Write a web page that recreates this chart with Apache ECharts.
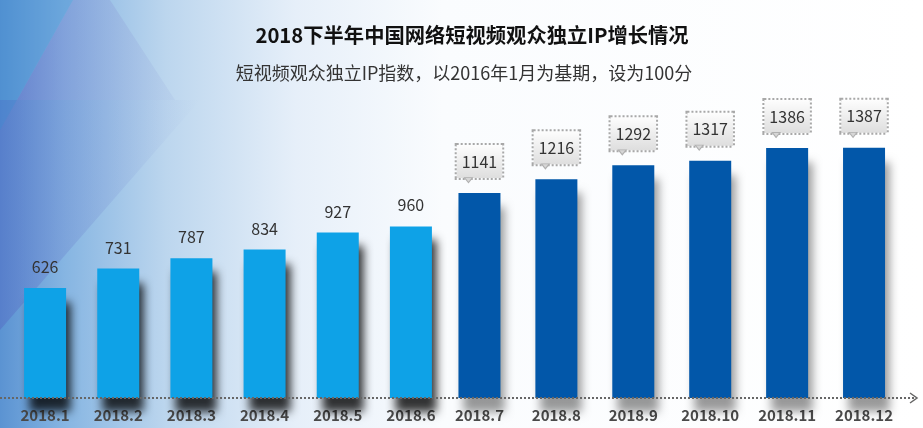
<!DOCTYPE html>
<html>
<head>
<meta charset="utf-8">
<script src="https://cdn.jsdelivr.net/npm/echarts@6/dist/echarts.min.js"></script>
<style>
html,body{margin:0;padding:0;background:#fff;}
#chart{width:923px;height:428px;}
</style>
</head>
<body>
<div id="chart"></div>
<script>
// First half-year (plain labels) and second half-year (boxed labels)
var categoriesH1 = ['2018.1','2018.2','2018.3','2018.4','2018.5','2018.6'];
var valuesH1 = [626, 731, 787, 834, 927, 960];
var categoriesH2 = ['2018.7','2018.8','2018.9','2018.10','2018.11','2018.12'];
var valuesH2 = [1141, 1216, 1292, 1317, 1386, 1387];
var titleText = '2018下半年中国网络短视频观众独立IP增长情况';
var subtitleText = '短视频观众独立IP指数，以2016年1月为基期，设为100分';

var FONT = '"Noto Sans CJK SC", "Noto Sans", sans-serif';
var LIGHT = '#0ea2e7';
var DARK = '#0257a9';

var chart = echarts.init(document.getElementById('chart'));

var axisLabelStyle = {
  margin: 10,
  fontFamily: FONT, fontSize: 15, fontWeight: 'bold', color: '#4a4a4a'
};

function barSeries(idx, data, color, boxed) {
  var label = {
    show: true,
    position: 'top',
    distance: 13,
    fontFamily: FONT,
    fontSize: 16,
    color: '#333'
  };
  var s = {
    type: 'bar',
    xAxisIndex: idx,
    yAxisIndex: idx,
    data: data,
    barWidth: 42,
    clip: true,
    itemStyle: {
      color: color,
      shadowColor: boxed ? 'rgba(0,0,0,0.4)' : 'rgba(0,0,0,0.8)',
      shadowBlur: 9,
      shadowOffsetX: 5,
      shadowOffsetY: 14
    },
    label: label
  };
  if (boxed) {
    label.distance = 15;
    label.padding = [7, 5, 7, 5];
    label.lineHeight = 19;
    label.borderColor = '#a8a8a8';
    label.borderWidth = 2;
    label.borderType = [2, 2];
    label.backgroundColor = {
      type: 'linear', x: 0, y: 0, x2: 0, y2: 1,
      colorStops: [{ offset: 0, color: '#ffffff' }, { offset: 1, color: '#dcdcdc' }]
    };
    // small callout pointer under each label box
    s.markPoint = {
      silent: true,
      animation: false,
      symbol: 'triangle',
      symbolRotate: 180,
      symbolSize: [8, 5],
      symbolOffset: [-11, -13],
      itemStyle: { color: '#d6d6d6', borderColor: '#b0b0b0', borderWidth: 1, shadowBlur: 0 },
      label: { show: false },
      data: data.map(function (v, i) { return { coord: [i, v] }; })
    };
  }
  return s;
}

var option = {
  animation: false,
  graphic: [
    {
      type: 'rect', z: -10, silent: true,
      shape: { x: 0, y: 0, width: 923, height: 428 },
      style: {
        fill: {
          type: 'linear', x: 0, y: 0, x2: 1, y2: 0,
          colorStops: [
            { offset: 0, color: '#5b93d2' },
            { offset: 0.07, color: '#86b5e2' },
            { offset: 0.18, color: '#bcd6ee' },
            { offset: 0.32, color: '#e6eff9' },
            { offset: 0.48, color: '#fafcfe' },
            { offset: 1, color: '#ffffff' }
          ]
        }
      }
    },
    {
      type: 'polygon', z: -9, silent: true,
      shape: { points: [[73, 0], [110, 0], [175, 100], [17, 100]] },
      style: {
        fill: {
          type: 'linear', x: 0, y: 0, x2: 1, y2: 0,
          colorStops: [
            { offset: 0, color: 'rgba(110,110,200,0.45)' },
            { offset: 1, color: 'rgba(150,170,220,0.15)' }
          ]
        }
      }
    },
    {
      type: 'polygon', z: -9, silent: true,
      shape: { points: [[0, 100], [200, 100], [0, 330]] },
      style: {
        fill: {
          type: 'linear', x: 0, y: 0, x2: 1, y2: 0,
          colorStops: [
            { offset: 0, color: 'rgba(80,90,190,0.35)' },
            { offset: 1, color: 'rgba(120,140,210,0.0)' }
          ]
        }
      }
    },
    {
      type: 'polygon', z: -9, silent: true,
      shape: { points: [[0, 0], [73, 0], [0, 130]] },
      style: { fill: 'rgba(60,140,210,0.35)' }
    },
    {
      type: 'line', z: 5, silent: true,
      shape: { x1: 0, y1: 398, x2: 916, y2: 398 },
      style: { stroke: '#666666', lineWidth: 2, lineDash: [2, 2] }
    },
    {
      type: 'polyline', z: 5, silent: true,
      shape: { points: [[910, 393], [917, 398], [910, 403]] },
      style: { stroke: '#666666', lineWidth: 1.5, fill: null }
    }
  ],
  title: [
    {
      text: titleText,
      left: 467, top: 20, textAlign: 'center',
      textStyle: { fontFamily: FONT, fontSize: 20.3, fontWeight: 'bold', color: '#111' }
    },
    {
      text: subtitleText,
      left: 459, top: 59, textAlign: 'center',
      textStyle: { fontFamily: FONT, fontSize: 18, fontWeight: 'normal', color: '#333' }
    }
  ],
  grid: [
    { left: 8.5, right: 475.5, top: 127, bottom: 30, containLabel: false },
    { left: 441, right: 20.5, top: 127, bottom: 30, containLabel: false }
  ],
  xAxis: [
    {
      type: 'category', gridIndex: 0, data: categoriesH1,
      axisLine: { show: false }, axisTick: { show: false },
      axisLabel: axisLabelStyle
    },
    {
      type: 'category', gridIndex: 1, data: categoriesH2,
      axisLine: { show: false }, axisTick: { show: false },
      axisLabel: axisLabelStyle
    }
  ],
  yAxis: [
    { type: 'value', gridIndex: 0, min: 28, max: 1500, show: false, splitLine: { show: false } },
    { type: 'value', gridIndex: 1, min: 28, max: 1500, show: false, splitLine: { show: false } }
  ],
  series: [
    barSeries(0, valuesH1, LIGHT, false),
    barSeries(1, valuesH2, DARK, true)
  ]
};
chart.setOption(option);
</script>
</body>
</html>
